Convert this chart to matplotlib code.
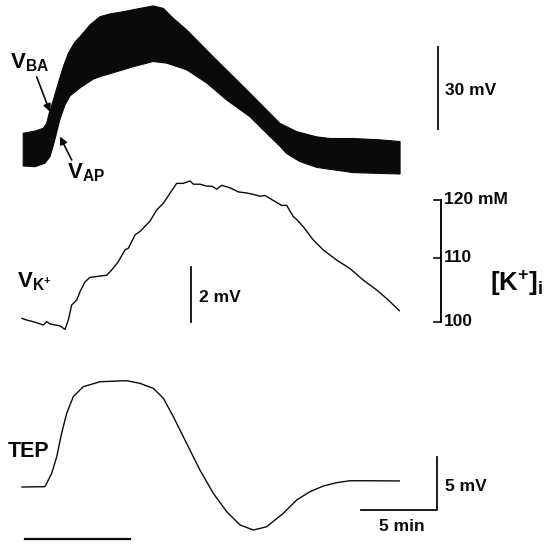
import numpy as np
import matplotlib

matplotlib.use("Agg")
import matplotlib.pyplot as plt

# time axis shared by the three traces (min)
W_PX, H_PX = 551, 544
PX_PER_MIN = 15.3
T0_PX = 22

# top trace: upper (V_BA) and lower (V_AP) envelopes of the black band, mV
band_up_t = [0.08, 0.85, 1.39, 1.61, 1.78, 2.05, 2.37, 2.70, 3.03, 3.46, 3.79, 4.44, 5.10, 5.75,
             6.62, 7.71, 8.58, 9.24, 9.89, 10.76, 11.63, 12.50, 13.81, 14.90, 15.77, 16.86,
             17.95, 19.26, 20.13, 21.65, 23.40, 24.71]
band_up_v = [11.9, 12.7, 13.7, 15.5, 19.2, 24.0, 30.1, 36.1, 41.0, 45.1, 47.0, 51.3, 54.3, 55.3,
             56.1, 57.3, 58.2, 57.3, 53.7, 49.5, 44.6, 39.7, 32.5, 26.5, 21.6, 15.5,
             12.5, 10.6, 10.0, 10.0, 9.5, 8.9]
band_lo_t = [0.08, 0.85, 1.50, 1.83, 2.05, 2.27, 2.48, 2.81, 3.14, 3.79, 4.66, 5.10, 6.19, 7.27,
             8.58, 9.46, 10.76, 12.07, 13.38, 14.90, 15.99, 16.86, 17.30, 18.17, 19.26, 20.13,
             21.65, 23.40, 24.71]
band_lo_v = [0.0, -0.25, 1.0, 3.4, 7.5, 12.3, 17.0, 22.2, 25.5, 28.4, 31.6, 32.5, 34.3, 36.1,
             38.0, 37.4, 35.0, 30.2, 24.0, 17.9, 11.9, 7.2, 4.5, 1.6, -0.5, -1.2,
             -2.4, -2.7, -2.9]

# middle trace: K+ electrode voltage, mV
vk_t = [0.0, 0.31, 0.74, 1.07, 1.39, 1.61, 1.83, 2.16, 2.48, 2.81, 3.03, 3.25, 3.58, 3.79, 4.12,
        4.44, 5.10, 5.54, 5.86, 6.29, 6.73, 6.95, 7.39, 7.71, 8.37, 8.80, 9.24, 9.67, 10.11,
        10.54, 10.98, 11.20, 11.63, 12.07, 12.40, 12.73, 13.05, 13.59, 14.14, 14.69, 15.12,
        15.56, 15.88, 16.42, 16.97, 17.30, 17.73, 17.95, 18.39, 19.04, 19.69, 20.57, 21.44,
        22.31, 23.19, 23.94, 24.66]
vk_v = [0.12, 0.06, 0.0, -0.06, -0.12, 0.0, -0.08, -0.12, -0.15, -0.28, 0.06, 0.61, 0.79, 1.09,
        1.45, 1.61, 1.66, 1.69, 1.88, 2.18, 2.61, 2.67, 3.16, 3.28, 3.66, 4.06, 4.31, 4.67, 5.03,
        5.03, 5.12, 5.00, 5.00, 4.93, 4.93, 4.82, 4.96, 4.87, 4.72, 4.68, 4.63,
        4.56, 4.59, 4.41, 4.23, 4.23, 3.82, 3.72, 3.45, 2.97, 2.61, 2.24, 1.93,
        1.51, 1.15, 0.79, 0.40]
k_ticks_mM = [100, 110, 120]
NERNST_SLOPE = 56.0  # mV per decade

# bottom trace: transepithelial potential, mV
tep_t = [0.0, 1.50, 1.94, 2.27, 2.59, 2.92, 3.35, 4.00, 5.10, 6.84, 7.71, 8.58, 9.24, 9.89,
         10.76, 11.63, 12.50, 13.38, 14.25, 15.12, 15.99, 17.08, 17.95, 18.82, 19.69, 20.57,
         21.44, 22.75, 24.66]
tep_v = [0.0, 0.03, 1.29, 2.86, 5.07, 6.95, 8.52, 9.46, 9.93, 10.03, 9.78, 9.31, 8.37, 6.64,
         4.12, 1.60, -0.59, -2.33, -3.58, -4.06, -3.75, -2.48, -1.23, -0.44, 0.09, 0.41,
         0.59, 0.59, 0.57]
stim_t = [0.2, 7.06]

plt.rcParams["font.family"] = ["Liberation Sans", "DejaVu Sans"]
plt.rcParams["font.weight"] = "bold"
plt.rcParams["mathtext.fontset"] = "custom"
plt.rcParams["mathtext.rm"] = "Liberation Sans:bold"
plt.rcParams["mathtext.bf"] = "Liberation Sans:bold"
plt.rcParams["mathtext.it"] = "Liberation Sans:bold"

INK = "#0a0a0a"


def overlay_axes(fig, px_per_mv, zero_px):
    ax = fig.add_axes([0, 0, 1, 1])
    ax.set_xlim(-T0_PX / PX_PER_MIN, (W_PX - T0_PX) / PX_PER_MIN)
    ax.set_ylim((zero_px - H_PX) / px_per_mv, zero_px / px_per_mv)
    ax.patch.set_alpha(0)
    ax.axis("off")
    return ax


fig = plt.figure(figsize=(W_PX / 100, H_PX / 100), dpi=100)
fig.patch.set_facecolor("white")

# ---- top: membrane potentials
ax1 = overlay_axes(fig, 2.75, 166)
ax1.fill(np.concatenate([band_up_t, band_lo_t[::-1]]),
         np.concatenate([band_up_v, band_lo_v[::-1]]),
         color=INK, lw=0.8, ec=INK)
ax1.plot([27.21, 27.21], [13.3, 43.3], color=INK, lw=1.3)
ax1.text(27.65, 27.6, "30 mV", fontsize=12.5, va="center", ha="left", color=INK)
ax1.text(-0.78, 35.6, r"$\mathbf{V_{BA}}$", fontsize=16, va="baseline", ha="left", color=INK)
arrow_style = dict(arrowstyle="-|>", color=INK, lw=1.2, mutation_scale=11, shrinkA=0, shrinkB=0)
ax1.annotate("", xy=(1.83, 19.7), xytext=(0.96, 32.4), arrowprops=arrow_style)
ax1.text(2.92, -4.4, r"$\mathbf{V_{AP}}$", fontsize=16, va="baseline", ha="left", color=INK)
ax1.annotate("", xy=(2.48, 10.7), xytext=(3.25, 2.2), arrowprops=arrow_style)

# ---- middle: K+ electrode and [K+]i calibration
ax2 = overlay_axes(fig, 27.5, 321.7)
ax2.plot(vk_t, vk_v, color=INK, lw=1.0)
ax2.plot([11.05, 11.05], [0, 2], color=INK, lw=1.3)
ax2.text(11.59, 0.87, "2 mV", fontsize=12.5, va="center", ha="left", color=INK)
ax2.text(-0.35, 1.26, r"$\mathbf{V_{K^{+}}}$", fontsize=16, va="baseline", ha="left", color=INK)
k_tick_v = [NERNST_SLOPE * np.log10(c / k_ticks_mM[0]) for c in k_ticks_mM]
k_axis_t = 27.37
ax2.plot([k_axis_t, k_axis_t], [k_tick_v[0], k_tick_v[-1]], color=INK, lw=1.4)
for c, v in zip(k_ticks_mM, k_tick_v):
    ax2.plot([k_axis_t - 0.45, k_axis_t], [v, v], color=INK, lw=1.2)
    label = f"{c} mM" if c == k_ticks_mM[-1] else f"{c}"
    ax2.text(k_axis_t + 0.2, v, label, fontsize=12.5, va="center", ha="left", color=INK)
ax2.text(30.6, 1.1, r"$\mathbf{[K^{+}]_{i}}$", fontsize=18.5, va="baseline", ha="left", color=INK)

# ---- bottom: TEP
ax3 = overlay_axes(fig, 10.6, 487)
ax3.plot(tep_t, tep_v, color=INK, lw=1.0)
ax3.plot([22.14, 27.14, 27.14], [-2.17, -2.17, 2.83], color=INK, lw=1.3)
ax3.text(27.65, 0.03, "5 mV", fontsize=12.5, va="center", ha="left", color=INK)
ax3.text(24.8, -3.72, "5 min", fontsize=12.5, va="center", ha="center", color=INK)
ax3.text(-0.9, 2.86, "TEP", fontsize=15.5, va="baseline", ha="left", color=INK)
ax3.plot(stim_t, [-4.9, -4.9], color=INK, lw=1.6)

fig.savefig("out.png", dpi=100, facecolor="white")
